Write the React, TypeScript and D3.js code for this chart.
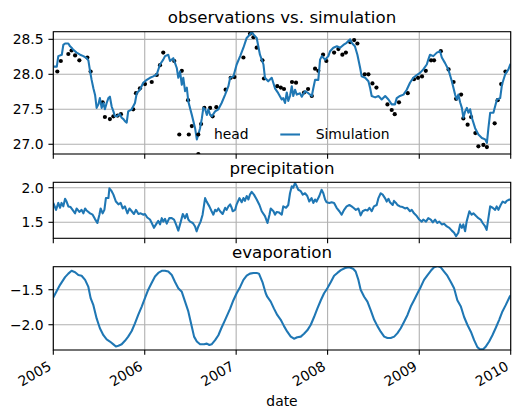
import React from "react";
import * as d3 from "d3";

// ---------- data (days since 2005-01-01) ----------
const START = Date.UTC(2005, 0, 1);
const END = Date.UTC(2010, 0, 1);

const simDay = [0,14,20,34,40,47,60,67,73,80,93,107,120,133,140,147,153,160,167,173,180,186,193,200,206,213,220,226,233,240,246,253,266,273,280,286,293,299,313,326,333,346,359,373,386,399,413,426,439,446,459,466,479,493,499,506,513,519,526,533,539,553,566,573,579,586,593,599,606,613,619,626,633,646,659,672,686,699,706,719,732,746,759,772,785,792,799,812,825,839,845,858,872,885,898,912,918,925,932,938,945,952,958,965,972,985,992,1005,1018,1032,1038,1045,1058,1065,1072,1085,1098,1105,1118,1132,1145,1158,1171,1185,1191,1204,1214,1225,1231,1245,1258,1265,1271,1285,1298,1311,1325,1338,1351,1364,1371,1384,1398,1411,1424,1437,1451,1464,1477,1491,1497,1504,1517,1531,1544,1551,1564,1577,1591,1604,1611,1617,1624,1631,1637,1644,1651,1657,1664,1671,1684,1697,1711,1724,1731,1737,1744,1757,1771,1784,1791,1804,1817,1824,1826];
const simHead = [28.11,28.11,28.26,28.28,28.42,28.44,28.44,28.40,28.38,28.35,28.31,28.28,28.26,28.23,28.20,28.04,27.92,27.80,27.70,27.52,27.57,27.66,27.52,27.59,27.50,27.59,27.66,27.68,27.54,27.47,27.40,27.40,27.43,27.38,27.36,27.33,27.31,27.47,27.50,27.59,27.73,27.78,27.88,27.92,27.95,27.97,28.00,28.14,28.21,28.26,28.28,28.19,28.23,28.09,27.95,28.04,27.85,27.95,27.76,27.81,27.61,27.42,27.23,27.07,27.14,27.23,27.37,27.52,27.50,27.42,27.50,27.42,27.40,27.47,27.50,27.59,27.71,27.83,27.95,27.97,28.14,28.26,28.38,28.52,28.57,28.61,28.57,28.52,28.28,28.14,27.95,27.90,27.95,27.80,27.73,27.64,27.66,27.59,27.74,27.62,27.69,27.83,27.69,27.78,27.71,27.73,27.68,27.76,27.73,27.69,27.80,27.92,27.92,28.21,28.26,28.21,28.26,28.33,28.38,28.40,28.38,28.42,28.45,28.50,28.45,28.40,28.28,28.09,27.97,27.95,27.90,27.80,27.69,27.67,27.69,27.64,27.69,27.64,27.57,27.57,27.66,27.69,27.71,27.78,27.88,27.95,27.99,28.02,28.07,28.14,28.21,28.28,28.26,28.31,28.33,28.24,28.16,28.07,27.90,27.71,27.64,27.71,27.60,27.52,27.38,27.47,27.52,27.45,27.50,27.38,27.23,27.14,27.09,27.07,27.02,27.23,27.45,27.45,27.64,27.66,27.85,28.00,28.07,28.14,28.15];

const obsDay = [16,30,60,73,87,104,136,149,197,206,226,240,257,270,319,330,346,366,393,413,426,439,483,513,538,553,579,590,603,626,636,651,688,708,723,759,785,799,812,835,841,894,908,921,953,969,1001,1017,1032,1045,1058,1077,1090,1121,1138,1154,1168,1185,1201,1214,1243,1258,1274,1290,1334,1351,1363,1380,1415,1440,1456,1472,1487,1508,1520,1547,1578,1598,1608,1628,1637,1654,1668,1685,1697,1717,1731,1762,1774,1788,1805];
const obsHead = [28.04,28.19,28.29,28.34,28.27,28.20,28.24,28.04,27.60,27.39,27.36,27.40,27.41,27.43,27.50,27.73,27.80,27.86,27.89,27.99,28.13,28.31,28.19,28.05,27.63,27.26,26.86,27.29,27.52,27.52,27.40,27.53,27.78,27.95,27.96,28.24,28.58,28.53,28.38,28.20,27.94,27.83,27.81,27.79,27.89,27.88,27.74,27.79,27.69,28.08,28.05,28.28,28.19,28.31,28.36,28.28,28.31,28.46,28.49,28.44,28.00,28.00,27.87,27.81,27.57,27.49,27.43,27.60,27.73,27.93,27.95,27.97,28.05,28.20,28.20,28.33,28.07,27.89,27.65,27.71,27.37,27.28,27.39,27.16,26.97,26.99,26.96,27.30,27.63,27.86,28.04];

const precipDay = [0,11,20,27,33,40,47,53,60,69,77,87,93,104,113,120,127,133,147,157,166,176,184,189,197,204,210,220,224,233,240,250,260,269,277,286,296,304,313,322,330,340,349,360,366,375,386,393,402,410,419,426,433,439,446,453,463,473,482,490,499,509,517,526,533,539,546,557,566,572,579,588,596,606,612,623,632,639,646,652,659,666,676,686,692,699,706,712,716,726,732,743,752,759,765,772,779,785,792,801,812,823,832,845,855,863,868,879,885,892,902,912,918,929,938,945,952,958,965,972,978,988,996,1005,1014,1022,1031,1038,1045,1051,1062,1071,1078,1085,1091,1102,1111,1121,1131,1142,1151,1161,1171,1182,1191,1198,1208,1218,1227,1235,1245,1254,1262,1271,1280,1291,1298,1307,1315,1324,1331,1338,1344,1355,1360,1368,1374,1384,1395,1404,1413,1424,1431,1440,1451,1461,1471,1477,1488,1497,1507,1515,1524,1533,1541,1551,1560,1571,1581,1591,1600,1608,1617,1624,1631,1637,1644,1650,1661,1670,1677,1688,1697,1706,1714,1724,1730,1737,1744,1754,1764,1770,1777,1786,1794,1804,1810,1821,1826];
const precipVal = [1.78,1.68,1.78,1.71,1.78,1.73,1.84,1.80,1.73,1.72,1.68,1.63,1.70,1.65,1.68,1.63,1.70,1.67,1.63,1.61,1.55,1.49,1.61,1.70,1.63,1.68,1.85,1.85,1.99,1.95,1.90,1.80,1.76,1.78,1.70,1.73,1.63,1.70,1.66,1.62,1.68,1.62,1.63,1.61,1.62,1.57,1.54,1.49,1.42,1.47,1.52,1.47,1.56,1.51,1.55,1.48,1.56,1.56,1.54,1.47,1.38,1.51,1.62,1.56,1.62,1.54,1.51,1.49,1.44,1.37,1.44,1.51,1.61,1.85,1.80,1.73,1.66,1.61,1.68,1.66,1.70,1.66,1.62,1.71,1.68,1.73,1.76,1.71,1.66,1.68,1.76,1.85,1.79,1.85,1.81,1.88,1.83,1.90,1.94,1.90,1.83,1.75,1.66,1.59,1.49,1.61,1.70,1.66,1.61,1.65,1.64,1.61,1.73,1.71,1.75,1.92,2.02,2.00,2.07,2.02,1.97,1.95,1.90,1.92,1.88,1.80,1.85,1.78,1.83,1.80,1.88,1.97,1.92,1.83,1.79,1.78,1.79,1.78,1.71,1.66,1.61,1.68,1.73,1.75,1.73,1.71,1.68,1.70,1.60,1.66,1.68,1.67,1.71,1.66,1.73,1.75,1.85,1.92,1.90,1.85,1.80,1.84,1.79,1.75,1.81,1.78,1.75,1.73,1.72,1.70,1.71,1.66,1.68,1.63,1.59,1.54,1.51,1.54,1.51,1.56,1.54,1.50,1.54,1.49,1.51,1.47,1.48,1.44,1.42,1.38,1.35,1.30,1.35,1.47,1.42,1.47,1.37,1.51,1.66,1.61,1.63,1.59,1.56,1.54,1.49,1.44,1.39,1.56,1.73,1.71,1.68,1.73,1.68,1.75,1.80,1.78,1.81,1.83,1.82];

const evapDay = [0,27,47,60,73,87,100,113,127,140,149,160,173,186,200,213,226,240,250,260,273,286,299,313,326,339,353,367,379,393,406,419,433,446,459,473,486,499,513,526,539,553,562,573,586,602,613,623,632,646,659,672,686,706,719,732,746,759,772,785,799,812,821,835,848,854,868,881,894,908,921,934,948,961,974,988,1001,1014,1028,1041,1054,1068,1081,1094,1108,1121,1134,1148,1165,1181,1197,1207,1218,1227,1241,1254,1267,1281,1294,1307,1321,1334,1347,1361,1374,1387,1400,1414,1427,1440,1454,1467,1480,1494,1507,1520,1534,1547,1560,1573,1587,1600,1613,1627,1640,1653,1667,1680,1693,1703,1716,1727,1740,1753,1767,1780,1793,1806,1822,1826];
const evapVal = [-1.61,-1.43,-1.32,-1.27,-1.23,-1.25,-1.29,-1.30,-1.36,-1.46,-1.62,-1.72,-1.91,-2.05,-2.15,-2.21,-2.24,-2.28,-2.31,-2.30,-2.28,-2.23,-2.17,-2.09,-1.98,-1.86,-1.74,-1.61,-1.50,-1.40,-1.31,-1.26,-1.23,-1.23,-1.24,-1.29,-1.39,-1.48,-1.53,-1.67,-1.81,-2.03,-2.17,-2.24,-2.28,-2.28,-2.27,-2.29,-2.28,-2.22,-2.15,-2.04,-1.93,-1.77,-1.65,-1.55,-1.46,-1.36,-1.30,-1.27,-1.26,-1.26,-1.27,-1.39,-1.55,-1.60,-1.67,-1.77,-1.86,-1.93,-2.02,-2.10,-2.17,-2.20,-2.18,-2.17,-2.13,-2.08,-2.00,-1.89,-1.77,-1.65,-1.55,-1.48,-1.39,-1.30,-1.26,-1.22,-1.19,-1.18,-1.20,-1.24,-1.36,-1.50,-1.60,-1.67,-1.79,-1.93,-2.02,-2.10,-2.17,-2.19,-2.19,-2.17,-2.12,-2.05,-1.96,-1.86,-1.74,-1.65,-1.55,-1.46,-1.36,-1.29,-1.23,-1.18,-1.16,-1.18,-1.24,-1.30,-1.39,-1.48,-1.65,-1.74,-1.89,-2.00,-2.10,-2.22,-2.32,-2.35,-2.35,-2.31,-2.24,-2.15,-2.04,-1.93,-1.81,-1.72,-1.60,-1.58];

const yearTicks = [2005, 2006, 2007, 2008, 2009, 2010];
const headTicks = [27.0, 27.5, 28.0, 28.5];
const precipTicks = [1.5, 2.0];
const evapTicks = [-2.0, -1.5];

// ---------- layout ----------
const W = 519, H = 419;
const L = 53.3, R = 510.7;
const FONT = "DejaVu Sans, sans-serif";
const BLUE = "#1f77b4";
const GRID = "#b0b0b0";
const TICK_FS = 13.89;
const TITLE_FS = 16.67;

const toDate = (d: number) => new Date(START + d * 86400000);

const x = d3.scaleUtc().domain([new Date(START), new Date(END)]).range([L, R]);
const xTickDates = yearTicks.map((y) => new Date(Date.UTC(y, 0, 1)));

const fmt1 = (v: number) => d3.format(".1f")(v).replace("-", "\u2212");

type PanelProps = {
  id: string;
  top: number;
  bottom: number;
  domain: [number, number];
  ticks: number[];
  title: string;
  showXLabels?: boolean;
  children: (y: d3.ScaleLinear<number, number>) => React.ReactNode;
};

function Panel({ id, top, bottom, domain, ticks, title, showXLabels, children }: PanelProps) {
  const y = d3.scaleLinear().domain(domain).range([bottom, top]);
  return (
    <g>
      <defs>
        <clipPath id={id}>
          <rect x={L} y={top} width={R - L} height={bottom - top} />
        </clipPath>
      </defs>
      {/* grid */}
      {xTickDates.map((d, i) => (
        <line key={"gx" + i} x1={x(d)} x2={x(d)} y1={top} y2={bottom} stroke={GRID} strokeWidth={1.1} />
      ))}
      {ticks.map((t, i) => (
        <line key={"gy" + i} x1={L} x2={R} y1={y(t)} y2={y(t)} stroke={GRID} strokeWidth={1.1} />
      ))}
      <g clipPath={`url(#${id})`}>{children(y)}</g>
      {/* spines */}
      <rect x={L} y={top} width={R - L} height={bottom - top} fill="none" stroke="#000" strokeWidth={1.1} />
      {/* y ticks */}
      {ticks.map((t, i) => (
        <g key={"ty" + i}>
          <line x1={L - 4.86} x2={L} y1={y(t)} y2={y(t)} stroke="#000" strokeWidth={1.1} />
          <text x={L - 9.7} y={y(t)} dy="0.36em" textAnchor="end" fontSize={TICK_FS} fontFamily={FONT} fill="#000">
            {fmt1(t)}
          </text>
        </g>
      ))}
      {/* x ticks */}
      {xTickDates.map((d, i) => (
        <g key={"tx" + i}>
          <line x1={x(d)} x2={x(d)} y1={bottom} y2={bottom + 4.86} stroke="#000" strokeWidth={1.1} />
          {showXLabels && (
            <text
              transform={`translate(${x(d) - 1},${bottom + 19}) rotate(-30)`}
              textAnchor="end"
              fontSize={TICK_FS}
              fontFamily={FONT}
              fill="#000"
            >
              {d3.utcFormat("%Y")(d)}
            </text>
          )}
        </g>
      ))}
      <text x={(L + R) / 2} y={top - 8.3} textAnchor="middle" fontSize={TITLE_FS} fontFamily={FONT} fill="#000">
        {title}
      </text>
    </g>
  );
}

export default function App() {
  const sim = simDay.map((d, i) => ({ date: toDate(d), v: simHead[i] }));
  const obs = obsDay.map((d, i) => ({ date: toDate(d), v: obsHead[i] }));
  const prec = precipDay.map((d, i) => ({ date: toDate(d), v: precipVal[i] }));
  const evap = evapDay.map((d, i) => ({ date: toDate(d), v: evapVal[i] }));

  const lineFor = (y: d3.ScaleLinear<number, number>) =>
    d3
      .line<{ date: Date; v: number }>()
      .x((p) => x(p.date))
      .y((p) => y(p.v));

  const legendY = 134.5;
  const markerXs = [179.3, 188.8, 198.3];

  return (
    <svg
      width={W}
      height={H}
      viewBox={`0 0 ${W} ${H}`}
      style={{ position: "absolute", left: 0, top: 0, background: "#fff" }}
    >
      <rect x={0} y={0} width={W} height={H} fill="#fff" />
      <Panel id="c1" top={31.7} bottom={154} domain={[26.861, 28.609]} ticks={headTicks} title="observations vs. simulation">
        {(y) => (
          <g>
            {obs.map((p, i) => (
              <circle key={i} cx={x(p.date)} cy={y(p.v)} r={2.1} fill="#000" />
            ))}
            <path d={lineFor(y)(sim) || ""} fill="none" stroke={BLUE} strokeWidth={2.08} strokeLinejoin="round" />
          </g>
        )}
      </Panel>
      {/* legend */}
      <g fontFamily={FONT} fontSize={TICK_FS}>
        {markerXs.map((mx, i) => (
          <circle key={i} cx={mx} cy={legendY} r={2.1} fill="#000" />
        ))}
        <text x={214} y={legendY + 4.9} fill="#000">head</text>
        <line x1={280.3} x2={300} y1={legendY} y2={legendY} stroke={BLUE} strokeWidth={2.08} />
        <text x={315.7} y={legendY + 4.9} fill="#000">Simulation</text>
      </g>
      <Panel id="c2" top={182.3} bottom={238.3} domain={[1.269, 2.078]} ticks={precipTicks} title="precipitation">
        {(y) => <path d={lineFor(y)(prec) || ""} fill="none" stroke={BLUE} strokeWidth={2.08} strokeLinejoin="round" />}
      </Panel>
      <Panel id="c3" top={266.7} bottom={350} domain={[-2.361, -1.171]} ticks={evapTicks} title="evaporation" showXLabels>
        {(y) => <path d={lineFor(y)(evap) || ""} fill="none" stroke={BLUE} strokeWidth={2.08} strokeLinejoin="round" />}
      </Panel>
      <text x={(L + R) / 2} y={406} textAnchor="middle" fontSize={TICK_FS} fontFamily={FONT} fill="#000">
        date
      </text>
    </svg>
  );
}
